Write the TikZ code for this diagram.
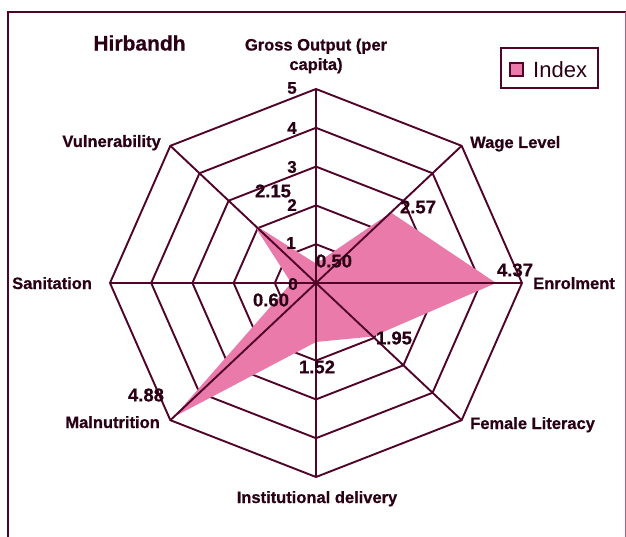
\documentclass[tikz,border=0pt]{standalone}
\usepackage{fontspec}
\setmainfont{Liberation Sans}[BoldFeatures={FakeBold=0.6}]
\definecolor{lineC}{RGB}{80,4,42}
\definecolor{txtC}{RGB}{42,0,20}
\definecolor{pinkC}{RGB}{234,122,170}
\begin{document}
\begin{tikzpicture}[x=1pt,y=-1pt,
  ringline/.style={draw=lineC,line width=1.9pt,line join=miter},
  spokeline/.style={draw=lineC,line width=1.9pt},
  axlabel/.style={font=\fontsize{16.5}{19}\selectfont\bfseries,text=txtC,inner sep=0pt,text height=12pt,text depth=0pt},
  twolabel/.style={font=\fontsize{16.5}{19.5}\selectfont\bfseries,text=txtC,inner sep=0pt,align=center},
  vallabel/.style={font=\fontsize{18.5}{20}\selectfont\bfseries,text=txtC,inner sep=0pt},
  ticklabel/.style={font=\fontsize{17}{18}\selectfont\bfseries,text=txtC,inner sep=0pt},
  titlelabel/.style={font=\fontsize{21}{24}\selectfont\bfseries,text=txtC,inner sep=0pt},
  legendtext/.style={font=\fontsize{22}{24}\selectfont,text=txtC,inner sep=0pt,text height=16pt,text depth=0pt},
]
\useasboundingbox (0,0) rectangle (626,537);
\fill[white] (0,0) rectangle (626,537);
% frame
\draw[lineC,line width=2.4pt] (8,537) -- (8,12) -- (626,12);
\draw[pinkC!70!lineC,line width=0.8pt] (625,12) -- (625,537);

\coordinate (C) at (316,283);
% rings
\foreach \r in {1,...,5}{
  \draw[ringline] (316,{283-194*\r/5})
    \foreach \a in {-45,0,...,225}{ -- ({316+206*\r/5*cos(\a)},{283+194*\r/5*sin(\a)}) } -- cycle;
}
% axis ends
\foreach \a/\n in {-90/go,-45/wl,0/en,45/fl,90/id,135/ma,180/sa,225/vu}
  \coordinate (e\n) at ({316+206*cos(\a)},{283+194*sin(\a)});
% data points
\foreach \a/\v/\n in {-90/0.50/go,-45/2.57/wl,0/4.37/en,45/1.95/fl,90/1.52/id,135/4.88/ma,180/0.60/sa,225/2.15/vu}
  \coordinate (d\n) at ({316+206*\v/5*cos(\a)},{283+194*\v/5*sin(\a)});
\fill[pinkC] (dgo) -- (dwl) -- (den) -- (dfl) -- (did) -- (dma) -- (dsa) -- (dvu) -- cycle;
% spokes
\foreach \n in {go,wl,en,fl,id,ma,sa,vu}
  \draw[spokeline] (C) -- (e\n);
\fill[lineC] (C) circle (2.2);

% title
\node[titlelabel] (title) at (139.5,43) {Hirbandh};
% axis labels
\node[twolabel] (lgo) at (316,56) {Gross Output (per\\capita)};
\node[axlabel,anchor=west] (lwl) at (470,142) {Wage Level};
\node[axlabel,anchor=west] (len) at (533,283) {Enrolment};
\node[axlabel,anchor=west] (lfl) at (470,423) {Female Literacy};
\node[axlabel] (lid) at (317,497) {Institutional delivery};
\node[axlabel,anchor=east] (lma) at (160,422) {Malnutrition};
\node[axlabel,anchor=west] (lsa) at (12,283) {Sanitation};
\node[axlabel,anchor=east] (lvu) at (161,141) {Vulnerability};
% tick labels
\node[ticklabel] (t5) at (292,88) {5};
\node[ticklabel] (t4) at (292,128) {4};
\node[ticklabel] (t3) at (292,167) {3};
\node[ticklabel] (t2) at (292,205) {2};
\node[ticklabel] (t1) at (291,243) {1};
\node[ticklabel] (t0) at (293,284) {0};
% value labels
\node[vallabel] (vgo) at (334,261) {0.50};
\node[vallabel] (vwl) at (418,207) {2.57};
\node[vallabel] (ven) at (515,270) {4.37};
\node[vallabel] (vfl) at (394,338) {1.95};
\node[vallabel] (vid) at (317,367) {1.52};
\node[vallabel] (vma) at (146,395) {4.88};
\node[vallabel] (vsa) at (271,300) {0.60};
\node[vallabel] (vvu) at (273,191) {2.15};
% legend
\node[draw=lineC,line width=1.8pt,minimum width=97pt,minimum height=40pt,inner sep=0pt] (legend) at (549.5,68) {};
\node[draw=lineC,fill=pinkC,line width=1.5pt,minimum size=13pt,inner sep=0pt] (mark) at (516.5,69.5) {};
\node[legendtext,anchor=west] (ltext) at (533,70) {Index};
\end{tikzpicture}
\end{document}
